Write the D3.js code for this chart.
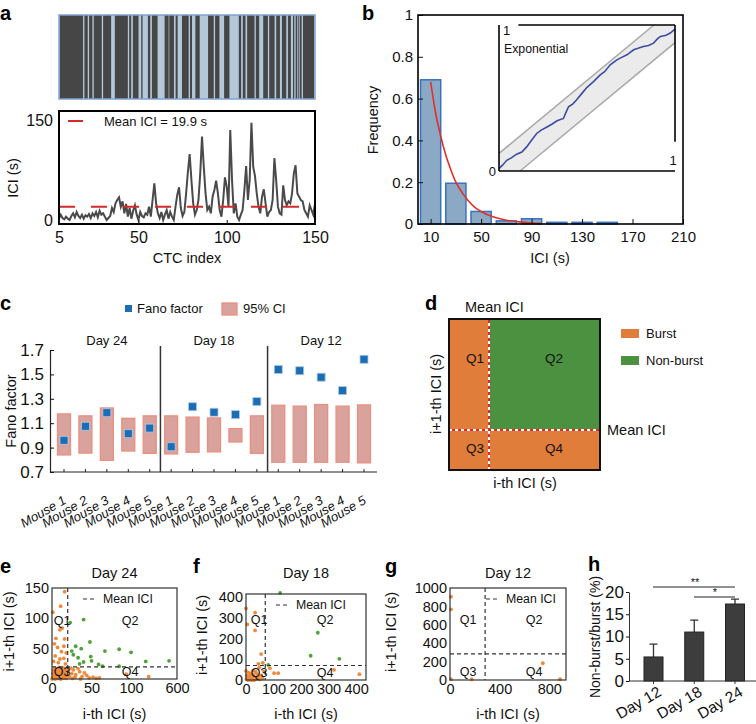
<!DOCTYPE html>
<meta charset="utf-8">
<style>
  body { margin: 0; background: #fff; }
  svg { font-family: "Liberation Sans", Arial, sans-serif; }
</style>
<svg width="756" height="724"></svg>
<script src="https://cdn.jsdelivr.net/npm/d3@7"></script>
<script>
    var FONT = "'Liberation Sans', Arial, sans-serif";

    // ---------- data ----------
    // a: barcode, dark = CTC-positive intervals on the recording timeline
    var barcodeSpan = [12, 778];
    var barcodeDark = [[14,84],[88,98],[102,112],[116,140],[144,168],[179,218],[222,228],[233,250],[258,262],[278,285],
        [290,307],[328,340],[342,356],[361,367],[380,400],[404,410],[420,433],[458,475],[479,492],[506,522],
        [550,557],[562,570],[575,597],[601,611],[623,637],[641,657],[662,673],[679,692],[697,706],[712,716],
        [720,725],[728,731],[733,738],[742,775]];
    // a: ICI for CTC index 5..150
    var iciFirstIndex = 5;
    var iciValues = [2,8,3,1,5,2,0,6,10,4,
        12,6,3,8,2,7,5,9,3,10,
        6,12,4,14,8,10,5,0,3,6,
        18,12,25,30,34,20,28,10,24,5,
        18,2,14,22,8,0,12,6,4,10,
        8,20,5,30,55,25,10,3,12,0,
        8,15,2,12,5,0,20,38,49,18,
        6,12,40,72,99,60,25,8,15,30,
        70,125,80,40,15,20,10,35,45,59,
        40,15,5,30,64,50,20,135,60,10,
        25,5,0,8,15,45,81,30,60,146,
        80,66,40,20,10,35,46,25,5,12,
        15,30,93,60,20,10,8,52,30,22,
        28,25,40,70,82,40,35,30,28,15,
        10,5,22,15,8,24];
    var meanIciA = 19.9;

    // b: ICI histogram
    var binCenters = [10, 30, 50, 70, 90, 110, 130, 150];
    var binFreq = [0.69, 0.195, 0.06, 0.015, 0.025, 0.008, 0.008, 0.008];
    var expFit = [[10,0.68],[14,0.53],[18,0.42],[22,0.33],[26,0.26],[30,0.2],[35,0.15],[40,0.11],[45,0.08],
        [50,0.06],[60,0.033],[70,0.018],[80,0.01],[90,0.005],[97,0.003]];
    var qqBand = 0.12;
    var qqLine = [[0,0.016],[0.02,0.04],[0.044,0.073],[0.07,0.09],[0.1,0.115],[0.13,0.13],[0.157,0.165],[0.185,0.21],
        [0.214,0.257],[0.24,0.28],[0.27,0.3],[0.3,0.32],[0.33,0.344],[0.366,0.36],[0.38,0.4],[0.395,0.44],[0.42,0.46],
        [0.44,0.486],[0.47,0.53],[0.5,0.573],[0.537,0.612],[0.575,0.658],[0.6,0.68],[0.632,0.727],[0.67,0.761],
        [0.7,0.78],[0.727,0.796],[0.765,0.83],[0.79,0.84],[0.82,0.853],[0.85,0.86],[0.878,0.876],[0.9,0.905],
        [0.917,0.922],[0.95,0.93],[0.973,0.945],[1,0.972]];

    // c: Fano factor per mouse
    var cDays = ["Day 24", "Day 18", "Day 12"];
    var cMice = ["Mouse 1", "Mouse 2", "Mouse 3", "Mouse 4", "Mouse 5"];
    var fanoValues = [0.96,1.075,1.186,1.014,1.06, 0.907,1.235,1.19,1.17,1.277, 1.54,1.53,1.477,1.367,1.624];
    var ciLow  = [0.84,0.855,0.796,0.872,0.853, 0.848,0.862,0.865,0.946,0.853, 0.78,0.78,0.78,0.78,0.775];
    var ciHigh = [1.176,1.16,1.225,1.14,1.16, 1.16,1.15,1.143,1.055,1.16, 1.247,1.24,1.253,1.24,1.25];

    // e-g: return maps (i-th ICI, i+1-th ICI)
    var d24Burst = [[16,144],[11,120],[1,110],[13,84],[10,81],[5,67],[16,66],[7,52],[15,54],[4,38],[10,33],[18,43],
        [2,29],[8,27],[15,34],[12,45],[3,58],[17,25],
        [1,2],[3,5],[5,1],[7,8],[9,3],[11,12],[13,6],[15,2],[17,10],[19,4],[2,15],[4,18],[6,11],[8,14],[10,6],
        [12,17],[14,9],[16,13],[18,1],[1,9],[3,12],[5,16],[7,3],[9,19],[11,0],[13,14],[15,18],[17,6],[19,15],
        [2,3],[6,7],[10,10],[14,2],[0,0],[4,0],[8,1],[12,3],[16,5],[18,8],
        [27,15],[35,12],[25,9],[44,6],[52,3],[94,8],[292,4],[29,3],[38,4],[22,4],[33,17],[24,18],[30,7],[41,10],
        [47,2],[56,1],[26,1],[36,0],[60,2],[21,13]];
    var d24NonBurst = [[23,93],[40,98],[48,61],[30,54],[37,50],[67,46],[85,49],[27,40],[33,35],[50,30],[59,24],
        [64,21],[40,28],[514,30],[260,29],[25,46],[35,25],[101,44],[85,21],[49,37]];
    var meanIci24 = 19.9;
    var d18Burst = [[0,345],[5,268],[33,325],[33,239],[55,125],[45,78],[61,83],[48,60],[87,57],[102,33],[117,33],
        [320,49],[412,28],[0,44],[2,5],[5,12],[8,3],[12,20],[15,8],[18,30],[22,15],[25,2],[28,25],[32,10],[35,40],
        [38,5],[42,18],[10,35],[3,22],[20,0],[26,45],[45,12],[50,3],[55,22],[60,8],[6,0],[14,1],[30,0],[40,30],[65,40]];
    var d18NonBurst = [[124,420],[261,228],[235,117],[339,102],[81,73]];
    var meanIci18 = 70;
    var d12Burst = [[8,905],[8,768],[8,8],[175,8],[748,182],[887,8]];
    var d12NonBurst = [];
    var meanIci12 = 283;

    // h: non-burst / burst ratio
    var hDays = ["Day 12", "Day 18", "Day 24"];
    var hRatio = [5.4, 11.0, 17.3];
    var hSem = [2.9, 2.7, 1.1];

    var BURST = "#ee8a3c", NONBURST = "#4ea23a";

    // ---------- drawing ----------
    var svg = d3.select("svg");
    svg.append("rect").attr("width", 756).attr("height", 724).attr("fill", "#fff");

    function txt(g, x, y, s, size, anchor) {
        return g.append("text").attr("x", x).attr("y", y).attr("font-size", size || 13)
            .attr("text-anchor", anchor || "start").attr("fill", "#111").text(s);
    }
    function vlabel(g, x, y, s, size) {
        return g.append("text").attr("transform", "translate(" + x + "," + y + ") rotate(-90)")
            .attr("text-anchor", "middle").attr("font-size", size || 14.5).attr("fill", "#111").text(s);
    }
    function styleAxis(g, size) {
        g.attr("font-size", size || 14.5).attr("font-family", FONT);
        g.selectAll(".tick text").attr("fill", "#111");
        g.selectAll(".tick line").attr("stroke", "#111");
    }
    function letter(s, x, y) {
        svg.append("text").attr("x", x).attr("y", y).attr("font-size", 20)
            .attr("font-weight", "bold").text(s);
    }

    letter("a", 0, 20); letter("b", 362, 20); letter("c", 0, 310); letter("d", 425, 310);
    letter("e", 0, 573); letter("f", 193, 573); letter("g", 385, 573); letter("h", 588, 571);

    // ----- a: barcode -----
    var gA = svg.append("g");
    var xBar = d3.scaleLinear().domain(barcodeSpan).range([59, 315]);
    gA.append("rect").attr("x", 59).attr("y", 15).attr("width", 256).attr("height", 84)
        .attr("fill", "#b3c9da");
    gA.selectAll(".dk").data(barcodeDark).join("rect")
        .attr("x", function(d) { return xBar(d[0]); })
        .attr("width", function(d) { return xBar(d[1]) - xBar(d[0]); })
        .attr("y", 15).attr("height", 84).attr("fill", "#464646");
    gA.append("rect").attr("x", 59).attr("y", 15).attr("width", 256).attr("height", 84)
        .attr("fill", "none").attr("stroke", "#7fa3d0").attr("stroke-width", 1.5);

    // ----- a: ICI trace -----
    var xA = d3.scaleLinear().domain([5, 150]).range([59, 315]);
    var yA = d3.scaleLinear().domain([0, 150]).range([220, 120]);
    svg.append("clipPath").attr("id", "clipA").append("rect")
        .attr("x", 59).attr("y", 111).attr("width", 256).attr("height", 113);
    gA.append("path").datum(iciValues)
        .attr("clip-path", "url(#clipA)")
        .attr("fill", "none").attr("stroke", "#4a4a4a").attr("stroke-width", 2)
        .attr("d", d3.line().x(function(d, i) { return xA(iciFirstIndex + i); }).y(function(d) { return yA(d); }));
    gA.append("line").attr("x1", 59).attr("x2", 315).attr("y1", yA(meanIciA)).attr("y2", yA(meanIciA))
        .attr("stroke", "#d42a2a").attr("stroke-width", 2).attr("stroke-dasharray", "16,16");
    gA.append("rect").attr("x", 59).attr("y", 111).attr("width", 256).attr("height", 113)
        .attr("fill", "none").attr("stroke", "#000").attr("stroke-width", 2);
    gA.append("line").attr("x1", 68).attr("x2", 83).attr("y1", 121).attr("y2", 121)
        .attr("stroke", "#d42a2a").attr("stroke-width", 2);
    txt(gA, 104, 126, "Mean ICI = " + meanIciA + " s", 13);
    var axA = gA.append("g").attr("transform", "translate(0,224)")
        .call(d3.axisBottom(xA).tickValues([5, 50, 100, 150]).tickSizeInner(-4).tickSizeOuter(0).tickPadding(8));
    axA.select(".domain").remove(); styleAxis(axA, 16);
    var ayA = gA.append("g").attr("transform", "translate(57,0)")
        .call(d3.axisLeft(yA).tickValues([0, 150]).tickSize(0).tickPadding(4));
    ayA.select(".domain").remove(); styleAxis(ayA, 16);
    vlabel(gA, 18, 178, "ICI (s)");
    txt(gA, 187, 263, "CTC index", 14.5, "middle");

    // ----- b: histogram -----
    var gB = svg.append("g");
    var xB = d3.scaleLinear().domain([0, 210]).range([418, 683]);
    var yB = d3.scaleLinear().domain([0, 1]).range([224, 15]);
    gB.selectAll(".bin").data(binFreq).join("rect")
        .attr("x", function(d, i) { return xB(binCenters[i] - 8); })
        .attr("width", xB(16) - xB(0))
        .attr("y", function(d) { return yB(d); })
        .attr("height", function(d) { return yB(0) - yB(d); })
        .attr("fill", "#8ba9c4").attr("stroke", "#3a72bd").attr("stroke-width", 1.5);
    gB.append("path").datum(expFit)
        .attr("fill", "none").attr("stroke", "#e0302a").attr("stroke-width", 1.6)
        .attr("d", d3.line().curve(d3.curveMonotoneX).x(function(d) { return xB(d[0]); }).y(function(d) { return yB(d[1]); }));
    var axB = gB.append("g").attr("transform", "translate(0,224)")
        .call(d3.axisBottom(xB).tickValues([10, 50, 90, 130, 170, 210]).tickSizeInner(-5).tickSizeOuter(0).tickPadding(7));
    axB.select(".domain").remove(); styleAxis(axB, 15);
    var ayB = gB.append("g").attr("transform", "translate(418,0)")
        .call(d3.axisLeft(yB).tickValues([0, 0.2, 0.4, 0.6, 0.8, 1]).tickSizeInner(-5).tickSizeOuter(0).tickPadding(5)
            .tickFormat(function(d) { return (d === 0 || d === 1) ? d : d.toFixed(1); }));
    ayB.select(".domain").remove(); styleAxis(ayB, 15);
    gB.append("rect").attr("x", 418).attr("y", 15).attr("width", 265).attr("height", 209)
        .attr("fill", "none").attr("stroke", "#000").attr("stroke-width", 1.6);
    vlabel(gB, 378, 120, "Frequency");
    txt(gB, 550, 263, "ICI (s)", 14.5, "middle");

    // inset Q-Q
    var xi = d3.scaleLinear().domain([0, 1]).range([499, 675]);
    var yi = d3.scaleLinear().domain([0, 1]).range([171, 25]);
    var band = [[0, 0], [0, qqBand], [1 - qqBand, 1], [1, 1], [1, 1 - qqBand], [qqBand, 0]];
    gB.append("polygon").attr("points", band.map(function(p) { return xi(p[0]) + "," + yi(p[1]); }).join(" "))
        .attr("fill", "#ebebeb");
    [[[0, qqBand], [1 - qqBand, 1]], [[qqBand, 0], [1, 1 - qqBand]]].forEach(function(seg) {
        gB.append("line").attr("x1", xi(seg[0][0])).attr("y1", yi(seg[0][1]))
            .attr("x2", xi(seg[1][0])).attr("y2", yi(seg[1][1]))
            .attr("stroke", "#a9a9a9").attr("stroke-width", 1.6);
    });
    gB.append("path").datum(qqLine)
        .attr("fill", "none").attr("stroke", "#3b4ca3").attr("stroke-width", 1.6)
        .attr("d", d3.line().x(function(d) { return xi(d[0]); }).y(function(d) { return yi(d[1]); }));
    var insetAxes = [[0, 0, 0, 1], [0, 0, 1, 0], [0.11, 1, 1, 1], [1, 1, 1, 0.2]];
    insetAxes.forEach(function(s) {
        gB.append("line").attr("x1", xi(s[0])).attr("y1", yi(s[1])).attr("x2", xi(s[2])).attr("y2", yi(s[3]))
            .attr("stroke", "#000").attr("stroke-width", 1.6);
    });
    txt(gB, xi(0) + 4, yi(1) + 10, "1", 13);
    txt(gB, xi(0) - 3, yi(0) + 5, "0", 13, "end");
    txt(gB, xi(1) - 2, yi(0) - 6, "1", 13, "middle");
    txt(gB, xi(0) + 5, 53, "Exponential", 12.3);

    // ----- c: Fano factor -----
    var gC = svg.append("g");
    var xC = d3.scalePoint().domain(d3.range(fanoValues.length)).range([64, 364]);
    var yC = d3.scaleLinear().domain([0.7, 1.7]).range([472, 350]);
    gC.selectAll(".ci").data(fanoValues).join("rect")
        .attr("x", function(d, i) { return xC(i) - 6.5; })
        .attr("width", 13)
        .attr("y", function(d, i) { return yC(ciHigh[i]); })
        .attr("height", function(d, i) { return yC(ciLow[i]) - yC(ciHigh[i]); })
        .attr("fill", "#d9a29c").attr("stroke", "#e9907f").attr("stroke-width", 1.3);
    gC.selectAll(".ff").data(fanoValues).join("rect")
        .attr("x", function(d, i) { return xC(i) - 4; })
        .attr("y", function(d) { return yC(d) - 4; })
        .attr("width", 8).attr("height", 8)
        .attr("fill", "#1c6db3").attr("stroke", "#a9cbe9").attr("stroke-width", 0.8);
    var ayC = gC.append("g").attr("transform", "translate(50,0)")
        .call(d3.axisLeft(yC).tickValues([0.7, 0.9, 1.1, 1.3, 1.5, 1.7]).tickSizeInner(-4).tickSizeOuter(0).tickPadding(6)
            .tickFormat(d3.format(".1f")));
    ayC.select(".domain").attr("stroke", "#222").attr("stroke-width", 1.2); styleAxis(ayC, 17);
    gC.append("line").attr("x1", 50).attr("x2", 377).attr("y1", 472).attr("y2", 472)
        .attr("stroke", "#222").attr("stroke-width", 1.2);
    gC.selectAll(".xt").data(fanoValues).join("line")
        .attr("x1", function(d, i) { return xC(i); }).attr("x2", function(d, i) { return xC(i); })
        .attr("y1", 472).attr("y2", 469).attr("stroke", "#222");
    [5, 10].forEach(function(k) {
        var xd = (xC(k - 1) + xC(k)) / 2;
        gC.append("line").attr("x1", xd).attr("x2", xd).attr("y1", 346).attr("y2", 472)
            .attr("stroke", "#333").attr("stroke-width", 1.5);
    });
    cDays.forEach(function(day, j) {
        txt(gC, xC(j * 5 + 2), 345, day, 13, "middle");
    });
    gC.selectAll(".mlab").data(fanoValues).join("text")
        .attr("transform", function(d, i) { return "translate(" + (xC(i) + 3) + ",503) rotate(-30)"; })
        .attr("text-anchor", "end").attr("font-style", "italic").attr("font-size", 13).attr("fill", "#111")
        .text(function(d, i) { return cMice[i % 5]; });
    vlabel(gC, 16, 411, "Fano factor");
    gC.append("rect").attr("x", 125).attr("y", 305).attr("width", 7).attr("height", 7).attr("fill", "#1c6db3");
    txt(gC, 137, 313, "Fano factor", 13);
    gC.append("rect").attr("x", 222).attr("y", 303).attr("width", 15).attr("height", 12)
        .attr("fill", "#d9a29c").attr("stroke", "#e9907f").attr("stroke-width", 1.3);
    txt(gC, 243, 313, "95% CI", 13);

    // ----- d: quadrant schematic -----
    var gD = svg.append("g");
    var xD = d3.scaleLinear().domain([0, 1]).range([449, 600]);
    var yD = d3.scaleLinear().domain([0, 1]).range([470, 319]);
    var mD = 0.265;
    var quads = [[0, mD, mD, 1], [mD, 1, mD, 1], [0, mD, 0, mD], [mD, 1, 0, mD]];
    gD.selectAll(".q").data(quads).join("rect")
        .attr("x", function(d) { return xD(d[0]); }).attr("width", function(d) { return xD(d[1]) - xD(d[0]); })
        .attr("y", function(d) { return yD(d[3]); }).attr("height", function(d) { return yD(d[2]) - yD(d[3]); })
        .attr("fill", function(d, i) { return i === 1 ? "#4b913f" : "#e07d3b"; });
    [[mD, 0, mD, 1], [0, mD, 1, mD]].forEach(function(s) {
        gD.append("line").attr("x1", xD(s[0])).attr("y1", yD(s[1])).attr("x2", xD(s[2])).attr("y2", yD(s[3]))
            .attr("stroke", "#e8262a").attr("stroke-width", 2);
        gD.append("line").attr("x1", xD(s[0])).attr("y1", yD(s[1])).attr("x2", xD(s[2])).attr("y2", yD(s[3]))
            .attr("stroke", "#fff").attr("stroke-width", 2).attr("stroke-dasharray", "3,3");
    });
    gD.append("rect").attr("x", 449).attr("y", 319).attr("width", 151).attr("height", 151)
        .attr("fill", "none").attr("stroke", "#111").attr("stroke-width", 2);
    txt(gD, 465, 312, "Mean ICI", 14.5);
    txt(gD, 607, 435, "Mean ICI", 14.5);
    txt(gD, 475, 363, "Q1", 13.5, "middle"); txt(gD, 554, 363, "Q2", 13.5, "middle");
    txt(gD, 475, 453, "Q3", 13.5, "middle"); txt(gD, 554, 453, "Q4", 13.5, "middle");
    gD.append("rect").attr("x", 621).attr("y", 329).attr("width", 18).attr("height", 9).attr("fill", "#e07d3b");
    txt(gD, 646, 338, "Burst", 13);
    gD.append("rect").attr("x", 621).attr("y", 356).attr("width", 18).attr("height", 9).attr("fill", "#4b913f");
    txt(gD, 646, 365, "Non-burst", 13);
    vlabel(gD, 441, 394, "i+1-th ICI (s)");
    txt(gD, 525, 488, "i-th ICI (s)", 14.5, "middle");

    // ----- e-g: return maps -----
    function returnMap(o) {
        var g = svg.append("g");
        var x = o.x, y = o.y;
        var L = x.range()[0], R = x.range()[x.range().length - 1], B = y.range()[0], T = y.range()[1];
        g.selectAll(".pb").data(o.burst).join("circle")
            .attr("cx", function(d) { return x(d[0]); }).attr("cy", function(d) { return y(d[1]); })
            .attr("r", 1.9).attr("fill", BURST);
        g.selectAll(".pn").data(o.nonBurst).join("circle")
            .attr("cx", function(d) { return x(d[0]); }).attr("cy", function(d) { return y(d[1]); })
            .attr("r", 1.9).attr("fill", NONBURST);
        g.append("line").attr("x1", x(o.mean)).attr("x2", x(o.mean)).attr("y1", T).attr("y2", B)
            .attr("stroke", "#333").attr("stroke-width", 1.2).attr("stroke-dasharray", "4,3");
        g.append("line").attr("x1", L).attr("x2", R).attr("y1", y(o.mean)).attr("y2", y(o.mean))
            .attr("stroke", "#333").attr("stroke-width", 1.2).attr("stroke-dasharray", "4,3");
        g.append("rect").attr("x", L).attr("y", T).attr("width", R - L).attr("height", B - T)
            .attr("fill", "none").attr("stroke", "#333").attr("stroke-width", 1.2);
        var ax = g.append("g").attr("transform", "translate(0," + B + ")")
            .call(d3.axisBottom(x).tickValues(o.xTicks).tickSize(0).tickPadding(4).tickFormat(d3.format("d")));
        ax.select(".domain").remove(); styleAxis(ax, 14.5);
        var ay = g.append("g").attr("transform", "translate(" + L + ",0)")
            .call(d3.axisLeft(y).tickValues(o.yTicks).tickSize(0).tickPadding(3).tickFormat(d3.format("d")));
        ay.select(".domain").remove(); styleAxis(ay, 14.5);
        txt(g, (L + R) / 2, 578, o.title, 14.5, "middle");
        g.append("line").attr("x1", o.leg[0]).attr("x2", o.leg[0] + 12).attr("y1", T + 11).attr("y2", T + 11)
            .attr("stroke", "#333").attr("stroke-width", 1.2).attr("stroke-dasharray", "4,3");
        txt(g, o.leg[0] + 20, T + 15, "Mean ICI", 12.3);
        txt(g, o.q[0], o.q[2], "Q1", 12.5, "middle"); txt(g, o.q[1], o.q[2], "Q2", 12.5, "middle");
        txt(g, o.q[0], o.q[3], "Q3", 12.5, "middle"); txt(g, o.q[1], o.q[3], "Q4", 12.5, "middle");
        vlabel(g, o.ylab, (T + B) / 2 - 2, "i+1-th ICI (s)");
        txt(g, (L + R) / 2, 719, "i-th ICI (s)", 14.5, "middle");
    }

    returnMap({
        title: "Day 24", burst: d24Burst, nonBurst: d24NonBurst, mean: meanIci24,
        x: d3.scaleLinear().domain([0, 100, 600]).range([52, 131, 177]),
        y: d3.scaleLinear().domain([0, 150]).range([679, 588]),
        xTicks: [0, 50, 100, 600], yTicks: [0, 50, 100, 150],
        leg: [83], q: [62, 130, 625, 676], ylab: 14
    });
    returnMap({
        title: "Day 18", burst: d18Burst, nonBurst: d18NonBurst, mean: meanIci18,
        x: d3.scaleLinear().domain([0, 436]).range([246, 366]),
        y: d3.scaleLinear().domain([0, 415]).range([680, 594]),
        xTicks: [0, 100, 200, 300, 400], yTicks: [0, 100, 200, 300, 400],
        leg: [276], q: [259, 325, 624, 677], ylab: 207
    });
    returnMap({
        title: "Day 12", burst: d12Burst, nonBurst: d12NonBurst, mean: meanIci12,
        x: d3.scaleLinear().domain([0, 935]).range([450, 566]),
        y: d3.scaleLinear().domain([0, 1000]).range([680, 588]),
        xTicks: [0, 400, 800], yTicks: [0, 200, 400, 600, 800, 1000],
        leg: [486], q: [468, 534, 624, 676], ylab: 396
    });

    // ----- h: ratio bars -----
    var gH = svg.append("g");
    var xH = d3.scalePoint().domain(hDays).range([653.5, 735]);
    var yH = d3.scaleLinear().domain([0, 20]).range([681, 592]);
    gH.selectAll(".err").data(hRatio).join("path")
        .attr("d", function(d, i) {
            var cx = xH(hDays[i]), t = yH(d + hSem[i]);
            return "M" + cx + "," + yH(d) + "V" + t + "M" + (cx - 4) + "," + t + "H" + (cx + 4);
        })
        .attr("stroke", "#333").attr("stroke-width", 1.3).attr("fill", "none");
    gH.selectAll(".bar").data(hRatio).join("rect")
        .attr("x", function(d, i) { return xH(hDays[i]) - 9.5; })
        .attr("width", 19)
        .attr("y", function(d) { return yH(d); })
        .attr("height", function(d) { return yH(0) - yH(d); })
        .attr("fill", "#3d3d3d").attr("stroke", "#222");
    var ayH = gH.append("g").attr("transform", "translate(629,0)")
        .call(d3.axisLeft(yH).tickValues([0, 5, 10, 15, 20]).tickSizeInner(3).tickSizeOuter(0).tickPadding(2));
    ayH.select(".domain").attr("stroke", "#333"); styleAxis(ayH, 17);
    gH.append("line").attr("x1", 629).attr("x2", 756).attr("y1", 681).attr("y2", 681).attr("stroke", "#333");
    gH.selectAll(".xt").data(hDays).join("line")
        .attr("x1", function(d) { return xH(d); }).attr("x2", function(d) { return xH(d); })
        .attr("y1", 681).attr("y2", 684).attr("stroke", "#333");
    gH.selectAll(".dlab").data(hDays).join("text")
        .attr("transform", function(d) { return "translate(" + (xH(d) + 9) + ",695) rotate(-30)"; })
        .attr("text-anchor", "end").attr("font-size", 15.5).attr("fill", "#111").text(function(d) { return d; });
    gH.append("line").attr("x1", 653).attr("x2", 735).attr("y1", 587).attr("y2", 587).attr("stroke", "#222");
    gH.append("line").attr("x1", 694).attr("x2", 735).attr("y1", 597).attr("y2", 597).attr("stroke", "#222");
    txt(gH, 695, 586, "**", 11, "middle");
    txt(gH, 715, 596, "*", 11, "middle");
    vlabel(gH, 600, 637, "Non-burst/burst (%)", 14);
</script>
